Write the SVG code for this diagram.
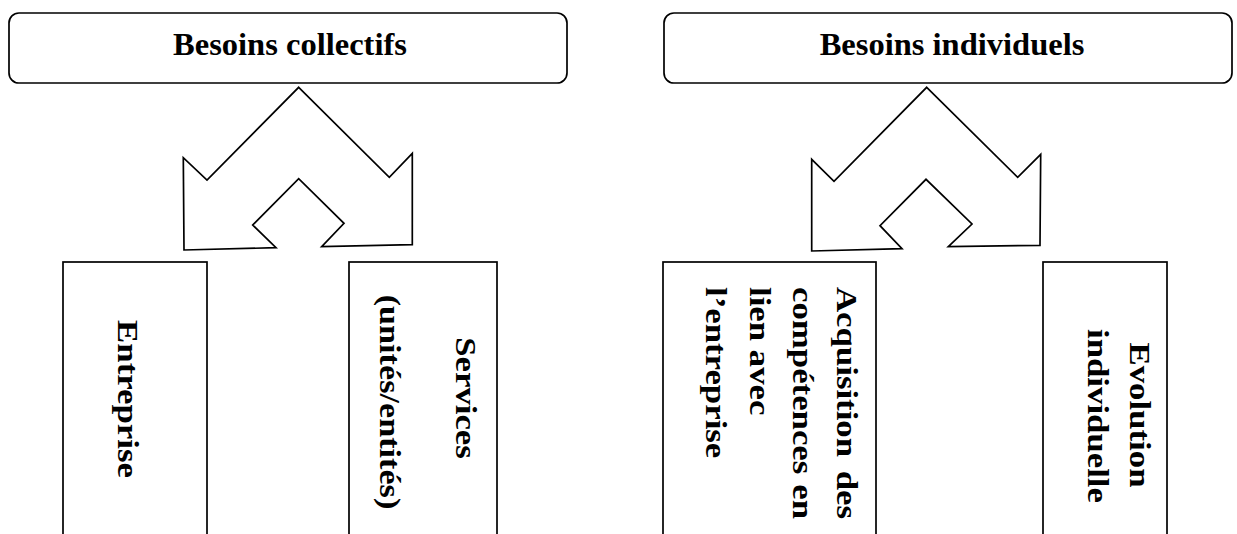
<svg xmlns="http://www.w3.org/2000/svg" width="1237" height="534" viewBox="0 0 1237 534">
  <style>
    .box { fill: #ffffff; stroke: #000000; stroke-width: 1.7; }
    .arrow { fill: #ffffff; stroke: #000000; stroke-width: 1.7; stroke-linejoin: miter; }
    .t { font-family: "Liberation Serif", "Times New Roman", serif; font-weight: bold; font-size: 30px; fill: #000000; }
    .head { font-size: 32.5px; }
    .mid { text-anchor: middle; }
    .end { text-anchor: end; }
  </style>
  <rect width="1237" height="534" fill="#ffffff"/>

  <!-- top headers -->
  <g id="besoins-collectifs">
    <rect class="box" x="9" y="13" width="558" height="70" rx="10"/>
    <text class="t head mid" x="290" y="55">Besoins collectifs</text>
  </g>
  <g id="besoins-individuels">
    <rect class="box" x="664" y="13" width="568" height="70" rx="10"/>
    <text class="t head mid" x="952" y="55">Besoins individuels</text>
  </g>

  <!-- split arrows -->
  <g id="connectors">
    <polygon class="arrow" points="298.7,87.3 389.3,177.3 412.3,153.3 412.3,244.7 321.7,246.7 344,223.3 298.7,178.7 252.7,225 276,247.7 184,250 183.3,157.7 207,180"/>
    <polygon class="arrow" points="926.7,87.3 1017.7,177.3 1040.7,154.3 1040,245.3 948.3,246.7 972,224 926,179.3 880,225.7 902,248.7 811.7,251 811.7,159.3 834,181.3"/>
  </g>

  <!-- vertical boxes, text reading top to bottom (slightly stretched along the line) -->
  <g id="entreprise">
    <rect class="box" x="63" y="262" width="144" height="290"/>
    <text class="t mid" transform="translate(118,399) rotate(90) scale(1.16,1)">Entreprise</text>
  </g>
  <g id="services">
    <rect class="box" x="349" y="262" width="148" height="290"/>
    <text class="t mid" transform="translate(456,398) rotate(90) scale(1.16,1)">Services</text>
    <text class="t mid" transform="translate(380,402) rotate(90) scale(1.14,1)">(unités/entités)</text>
  </g>
  <g id="acquisition">
    <rect class="box" x="663" y="262" width="213" height="290"/>
    <text class="t" transform="translate(837,287) rotate(90) scale(1.16,1)">Acquisition</text>
    <text class="t end" transform="translate(837,519) rotate(90) scale(1.16,1)">des</text>
    <text class="t" transform="translate(793,287) rotate(90) scale(1.16,1)">compétences</text>
    <text class="t end" transform="translate(793,519) rotate(90) scale(1.16,1)">en</text>
    <text class="t" transform="translate(750,287) rotate(90) scale(1.16,1)">lien avec</text>
    <text class="t" transform="translate(706,287) rotate(90) scale(1.16,1)">l’entreprise</text>
  </g>
  <g id="evolution">
    <rect class="box" x="1043" y="262" width="124" height="290"/>
    <text class="t mid" transform="translate(1130,415) rotate(90) scale(1.16,1)">Evolution</text>
    <text class="t mid" transform="translate(1088,416) rotate(90) scale(1.16,1)">individuelle</text>
  </g>
</svg>
